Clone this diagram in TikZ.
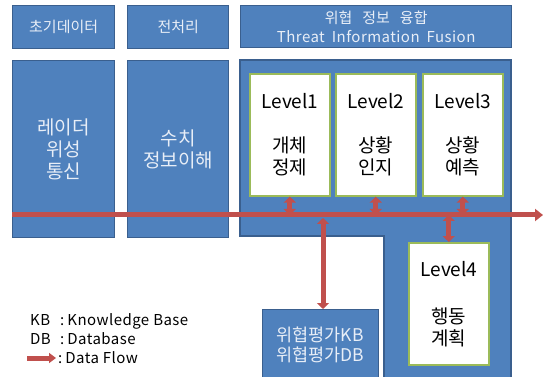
\documentclass[tikz,border=0pt]{standalone}
\usepackage{fontspec}
\setmainfont{Noto Sans CJK KR}
\newfontfamily\widelatin[LetterSpace=3]{Noto Sans CJK KR}
\usetikzlibrary{arrows.meta}
\definecolor{boxblue}{HTML}{4F81BD}
\definecolor{boxedge}{HTML}{3A5F8E}
\definecolor{lvledge}{HTML}{9BBB59}
\definecolor{flowred}{HTML}{C0504D}
\definecolor{paletext}{HTML}{E8EEF7}
\tikzset{
  bluebox/.style={draw=boxedge, fill=boxblue, line width=1.4pt, inner sep=0pt,
    text=paletext, align=center, anchor=north west},
  lvlbox/.style={draw=lvledge, fill=white, line width=1.6pt, inner sep=0pt,
    minimum width=80pt, minimum height=122pt, anchor=north west, align=center,
    font=\fontsize{19}{22}\selectfont},
  flow/.style={draw=flowred, line width=5pt,
    -{Triangle[width=12pt,length=8pt]}},
  dflow/.style={draw=flowred, line width=5pt,
    {Triangle[width=12pt,length=6pt]}-{Triangle[width=12pt,length=6pt]}},
  legend/.style={anchor=base west, inner sep=0pt,
    font=\widelatin\fontsize{15}{17}\selectfont}
}
\begin{document}
\begin{tikzpicture}[x=1pt,y=-1pt]
\useasboundingbox (0,0) rectangle (544,377);

% column headers
\node[bluebox, minimum width=102pt, minimum height=43pt,
  font=\fontsize{15}{18}\selectfont] (hinit) at (12,5) {초기데이터};
\node[bluebox, minimum width=101pt, minimum height=43pt,
  font=\fontsize{15}{18}\selectfont] (hpre) at (127,5) {전처리};
\node[bluebox, minimum width=271pt, minimum height=42pt,
  font=\fontsize{15}{19}\selectfont] (hfus) at (240,5)
  {위협\hspace{10pt}정보\hspace{10pt}융합\\{\widelatin Threat\hspace{7pt}Information\hspace{7pt}Fusion}};

% column bodies
\node[bluebox, minimum width=102pt, minimum height=177pt,
  font=\fontsize{19}{22}\selectfont] (radar) at (12,60) {레이더\\위성\\통신};
\node[bluebox, minimum width=101pt, minimum height=177pt,
  font=\fontsize{19}{22}\selectfont] (num) at (127,60) {수치\\정보이해};

% fusion area (L-shaped)
\path[draw=boxedge, fill=boxblue, line width=1.4pt]
  (240,60) -- (511,60) -- (511,390) -- (384,390) -- (384,236) -- (240,236) -- cycle;

% fusion levels
\node[lvlbox] (lv1) at (249,73) {Level1\\[22pt]개체\\정제};
\node[lvlbox] (lv2) at (335,73) {Level2\\[22pt]상황\\인지};
\node[lvlbox] (lv3) at (422,73) {Level3\\[22pt]상황\\예측};
\node[lvlbox] (lv4) at (408,242) {Level4\\[25pt]행동\\계획};

% knowledge / database store
\node[bluebox, minimum width=116pt, minimum height=90pt] (kb) at (262,309) {};
\node[text=paletext, font=\fontsize{17.5}{20}\selectfont, align=center,
  inner sep=0pt] (kbtext) at (320,345) {위협평가KB\\위협평가DB};

% data flow bus
\coordinate (busstart) at (12,215);
\coordinate (busend) at (543,215);
\coordinate (tap) at (323,215);
\draw[flow] (busstart) -- (busend);
\draw[dflow] (lv1.south) -- (lv1.south |- busstart);
\draw[dflow] (lv2.south) -- (lv2.south |- busstart);
\draw[dflow] (lv3.south) -- (lv3.south |- busstart);
\draw[dflow] (lv4.north) -- (lv4.north |- busstart);
\draw[dflow] ([yshift=-3pt]tap) -- (tap |- kb.north);

% legend
\node[legend] (lkb) at (30,325) {\makebox[30pt][l]{KB}:\hspace{3pt}Knowledge\hspace{4pt}Base};
\node[legend] (ldb) at (30,344) {\makebox[30pt][l]{DB}:\hspace{3pt}Database};
\node[legend] (lflow) at (58,363) {:\hspace{3pt}Data\hspace{4pt}Flow};
\coordinate (lfs) at (27,358);
\draw[flow, -{Triangle[width=10pt,length=7pt]}] (lfs) -- ([xshift=-2pt]lflow.west |- lfs);
\end{tikzpicture}
\end{document}
